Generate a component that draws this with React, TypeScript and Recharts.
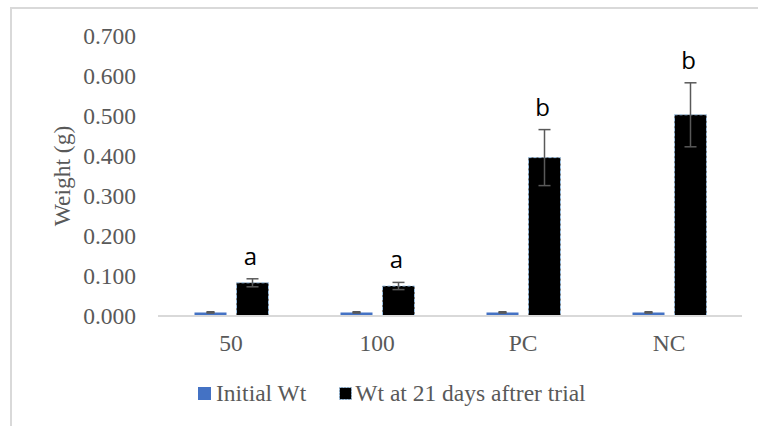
import { BarChart, Bar, XAxis, YAxis, ErrorBar, LabelList, Legend, Label } from 'recharts';

const categories = ['50', '100', 'PC', 'NC'];
const initialWt = [0.009, 0.009, 0.009, 0.009];
const initialErr = [0.001, 0.001, 0.001, 0.001];
const finalWt = [0.083, 0.075, 0.396, 0.503];
const finalErr = [0.01, 0.009, 0.07, 0.08];
const groupLetters = ['a', 'a', 'b', 'b'];
const yTicks = [0, 0.1, 0.2, 0.3, 0.4, 0.5, 0.6, 0.7];

const data = categories.map((name, i) => ({
  name,
  initial: initialWt[i],
  initialErr: initialErr[i],
  final: finalWt[i],
  finalErr: finalErr[i],
  letter: groupLetters[i],
}));

const serif = '"Liberation Serif", "Times New Roman", serif';
const textGray = '#595959';

// letter above the error bar, px-per-unit taken from the bar itself
const renderLetter = (props: any) => {
  const { x, y, width, height, value, index } = props;
  const v = finalWt[index];
  const err = finalErr[index];
  const pxPerUnit = v ? height / v : 0;
  const top = y - err * pxPerUnit;
  return (
    <text x={x + width / 2 - 2} y={top - 14} textAnchor="middle" fontFamily='"Open Sans", "Noto Sans", sans-serif' fontSize={24} fill="#000">
      {value}
    </text>
  );
};

const renderLegend = () => (
  <div style={{ display: 'flex', alignItems: 'center', fontFamily: serif, fontSize: 23.5, color: textGray, whiteSpace: 'nowrap' }}>
    <svg width={13} height={13} style={{ marginRight: 5 }}>
      <rect x={0} y={0} width={13} height={13} fill="#4472C4" />
    </svg>
    <span>Initial Wt</span>
    <svg width={13} height={13} style={{ marginLeft: 33, marginRight: 3 }}>
      <rect x={0.5} y={0.5} width={12} height={12} fill="#000" stroke="#9dc3e6" strokeDasharray="2 1" />
    </svg>
    <span>Wt at 21 days aftrer trial</span>
  </div>
);

export default function App() {
  return (
    <div style={{ position: 'absolute', left: 0, top: 0, width: 758, height: 426, background: '#fff', overflow: 'hidden' }}>
      <div style={{ position: 'absolute', left: 10, top: 7, width: 760, height: 430, borderTop: '2px solid #d9d9d9', borderLeft: '2px solid #d9d9d9' }} />
      <BarChart
        width={758}
        height={426}
        data={data}
        margin={{ top: 36, right: 16, left: 20, bottom: 70 }}
        barCategoryGap="25%"
        barGap={10}
      >
        <XAxis
          dataKey="name"
          axisLine={{ stroke: '#d9d9d9', strokeWidth: 2 }}
          tickLine={false}
          tickSize={0}
          tickMargin={18}
          height={40}
          tick={{ fontFamily: serif, fontSize: 23.5, fill: textGray }}
        />
        <YAxis
          domain={[0, 0.7]}
          ticks={yTicks}
          width={138}
          axisLine={false}
          tickLine={false}
          tickSize={0}
          tickMargin={22}
          tickFormatter={(v: number) => v.toFixed(3)}
          tick={{ fontFamily: serif, fontSize: 23.5, fill: textGray }}
        >
          <Label value="Weight (g)" angle={-90} position="center" dx={-27} style={{ fontFamily: serif, fontSize: 23.5, fill: textGray }} />
        </YAxis>
        <Legend
          layout="horizontal"
          verticalAlign="middle"
          align="center"
          content={renderLegend}
          wrapperStyle={{ position: 'absolute', left: 198, top: 380, width: 'auto', height: 30 }}
        />
        <Bar dataKey="initial" name="Initial Wt" fill="#4472C4" isAnimationActive={false}>
          <ErrorBar dataKey="initialErr" width={4} stroke="#595959" strokeWidth={2} />
        </Bar>
        <Bar dataKey="final" name="Wt at 21 days aftrer trial" fill="#000" stroke="#9dc3e6" strokeWidth={1} strokeDasharray="3 2" isAnimationActive={false}>
          <ErrorBar dataKey="finalErr" width={6} stroke="#595959" strokeWidth={1.5} />
          <LabelList dataKey="letter" content={renderLetter} />
        </Bar>
      </BarChart>
    </div>
  );
}
